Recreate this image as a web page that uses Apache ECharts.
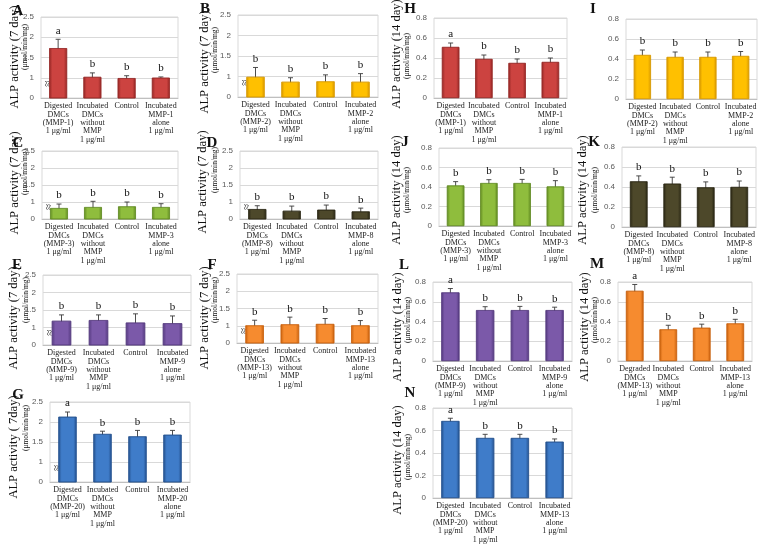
<!DOCTYPE html>
<html><head><meta charset="utf-8">
<script src="https://cdn.jsdelivr.net/npm/echarts@6/dist/echarts.min.js"></script>
<style>html,body{margin:0;padding:0;background:#fff}#c{width:760px;height:544px}</style>
</head><body><div id="c"></div>
<script>
// ---------------- DATA ----------------
const catsA = ['Digested\nDMCs\n(MMP-1)\n1 μg/ml', 'Incubated\nDMCs\nwithout\nMMP\n1 μg/ml', 'Control', 'Incubated\nMMP-1\nalone\n1 μg/ml'];
const catsB = ['Digested\nDMCs\n(MMP-2)\n1 μg/ml', 'Incubated\nDMCs\nwithout\nMMP\n1 μg/ml', 'Control', 'Incubated\nMMP-2\nalone\n1 μg/ml'];
const catsC = ['Digested\nDMCs\n(MMP-3)\n1 μg/ml', 'Incubated\nDMCs\nwithout\nMMP\n1 μg/ml', 'Control', 'Incubated\nMMP-3\nalone\n1 μg/ml'];
const catsD = ['Digested\nDMCs\n(MMP-8)\n1 μg/ml', 'Incubated\nDMCs\nwithout\nMMP\n1 μg/ml', 'Control', 'Incubated\nMMP-8\nalone\n1 μg/ml'];
const catsE = ['Digested\nDMCs\n(MMP-9)\n1 μg/ml', 'Incubated\nDMCs\nwithout\nMMP\n1 μg/ml', 'Control', 'Incubated\nMMP-9\nalone\n1 μg/ml'];
const catsF = ['Digested\nDMCs\n(MMP-13)\n1 μg/ml', 'Incubated\nDMCs\nwithout\nMMP\n1 μg/ml', 'Control', 'Incubated\nMMP-13\nalone\n1 μg/ml'];
const catsG = ['Digested\nDMCs\n(MMP-20)\n1 μg/ml', 'Incubated\nDMCs\nwithout\nMMP\n1 μg/ml', 'Control', 'Incubated\nMMP-20\nalone\n1 μg/ml'];
const catsH = catsA, catsI = catsB, catsJ = catsC, catsK = catsD, catsL = catsE;
const catsM = ['Degraded\nDMCs\n(MMP-13)\n1 μg/ml', 'Incubated\nDMCs\nwithout\nMMP\n1 μg/ml', 'Control', 'Incubated\nMMP-13\nalone\n1 μg/ml'];
const catsN = ['Digested\nDMCs\n(MMP-20)\n1 μg/ml', 'Incubated\nDMCs\nwithout\nMMP\n1 μg/ml', 'Control', 'Incubated\nMMP-13\nalone\n1 μg/ml'];

const valsA = [1.73, 1.02, 0.99, 1.00], errsA = [0.22, 0.10, 0.06, 0.02], sigA = ['a','b','b','b'];
const valsB = [0.99, 0.87, 0.88, 0.87], errsB = [0.23, 0.10, 0.16, 0.20], sigB = ['b','b','b','b'];
const valsC = [0.82, 0.85, 0.87, 0.85], errsC = [0.12, 0.17, 0.13, 0.10], sigC = ['b','b','b','b'];
const valsD = [0.79, 0.74, 0.77, 0.72], errsD = [0.10, 0.14, 0.14, 0.10], sigD = ['b','b','b','b'];
const valsE = [1.19, 1.21, 1.14, 1.12], errsE = [0.17, 0.15, 0.25, 0.21], sigE = ['b','b','b','b'];
const valsF = [1.01, 1.04, 1.05, 1.01], errsF = [0.15, 0.21, 0.16, 0.14], sigF = ['b','b','b','b'];
const valsG = [2.13, 1.70, 1.64, 1.68], errsG = [0.12, 0.07, 0.15, 0.11], sigG = ['a','b','b','b'];
const valsH = [0.51, 0.39, 0.35, 0.36], errsH = [0.04, 0.04, 0.04, 0.04], sigH = ['a','b','b','b'];
const valsI = [0.44, 0.42, 0.42, 0.43], errsI = [0.05, 0.05, 0.05, 0.045], sigI = ['b','b','b','b'];
const valsJ = [0.415, 0.44, 0.44, 0.405], errsJ = [0.04, 0.035, 0.038, 0.06], sigJ = ['b','b','b','b'];
const valsK = [0.456, 0.433, 0.396, 0.40], errsK = [0.055, 0.065, 0.055, 0.06], sigK = ['b','b','b','b'];
const valsL = [0.694, 0.515, 0.515, 0.515], errsL = [0.04, 0.035, 0.038, 0.03], sigL = ['a','b','b','b'];
const valsM = [0.71, 0.32, 0.336, 0.38], errsM = [0.065, 0.042, 0.037, 0.042], sigM = ['a','b','b','b'];
const valsN = [0.684, 0.533, 0.533, 0.50], errsN = [0.025, 0.033, 0.033, 0.025], sigN = ['a','b','b','b'];

const ticks7 = [0.5, 1, 1.5, 2, 2.5];          // axis break: lowest tick shown as "0"
const tickLabels7 = ['0', '1', '1.5', '2', '2.5'];
const ticks14 = [0, 0.2, 0.4, 0.6, 0.8];
const tickLabels14 = ['0', '0.2', '0.4', '0.6', '0.8'];

// ---------------- STYLE / LAYOUT ----------------
const RED = ['#cc4340', '#962826'], YEL = ['#ffc000', '#d99a00'], GRN = ['#8fbd3d', '#628c23'],
      OLV = ['#4d482a', '#2c2915'], PUR = ['#7b59a9', '#553a80'], ORG = ['#f68b2f', '#c9620f'], BLU = ['#3f7cc9', '#25528f'];
const T7 = 'ALP activity (7 day)', T14 = 'ALP activity (14 day)', SUB = '(μmol/min/mg)';
const panels = [
  {k:'A', cats:catsA, vals:valsA, errs:errsA, sig:sigA, d:7, c:RED, g:[41,17,178,98],  L:[18,11],  t:[15,57],  s:[25,47], tt:T7},
  {k:'B', cats:catsB, vals:valsB, errs:errsB, sig:sigB, d:7, c:YEL, g:[238,15,378,97], L:[205,9],  t:[205,62], s:[215,50], tt:T7},
  {k:'C', cats:catsC, vals:valsC, errs:errsC, sig:sigC, d:7, c:GRN, g:[42,151,178,219],L:[18,143], t:[15,183], s:[25,172], tt:T7},
  {k:'D', cats:catsD, vals:valsD, errs:errsD, sig:sigD, d:7, c:OLV, g:[240,151,378,219],L:[212,143],t:[203,182],s:[215,170], tt:T7},
  {k:'E', cats:catsE, vals:valsE, errs:errsE, sig:sigE, d:7, c:PUR, g:[43,275,191,345],L:[17,265], t:[14,318], s:[26,300], tt:T7},
  {k:'F', cats:catsF, vals:valsF, errs:errsF, sig:sigF, d:7, c:ORG, g:[237,274,378,343],L:[212,265],t:[205,318],s:[215,300], tt:T7},
  {k:'G', cats:catsG, vals:valsG, errs:errsG, sig:sigG, d:7, c:BLU, g:[50,402,190,482],L:[18,395], t:[14,447], s:[26,428], tt:'ALP activity ( 7day)'},
  {k:'H', cats:catsH, vals:valsH, errs:errsH, sig:sigH, d:14, c:RED, g:[434,18,567,98],  L:[410,9],  t:[397,54], s:[407,56], tt:T14},
  {k:'I', cats:catsI, vals:valsI, errs:errsI, sig:sigI, d:14, c:YEL, g:[626,19,757,99],  L:[593,9],  t:null,     s:null,     tt:T14},
  {k:'J', cats:catsJ, vals:valsJ, errs:errsJ, sig:sigJ, d:14, c:GRN, g:[439,148,572,226],L:[405,142],t:[397,190],s:[407,190], tt:T14},
  {k:'K', cats:catsK, vals:valsK, errs:errsK, sig:sigK, d:14, c:OLV, g:[622,147,756,227],L:[594,142],t:[583,190],s:[595,190], tt:T14},
  {k:'L', cats:catsL, vals:valsL, errs:errsL, sig:sigL, d:14, c:PUR, g:[433,282,572,361],L:[404,265],t:[398,327],s:[408,320], tt:T14},
  {k:'M', cats:catsM, vals:valsM, errs:errsM, sig:sigM, d:14, c:ORG, g:[618,282,752,361],L:[597,264],t:[585,327],s:[595,320], tt:T14},
  {k:'N', cats:catsN, vals:valsN, errs:errsN, sig:sigN, d:14, c:BLU, g:[433,408,572,500],L:[410,393],t:[398,460],s:[408,457], tt:T14}
];

const SERIF = '"Liberation Serif", "DejaVu Serif", serif';
const SANS = '"Liberation Sans", Arial, sans-serif';

const grid = [], xAxis = [], yAxis = [], series = [], graphic = [];
panels.forEach((p, i) => {
  grid.push({left: p.g[0], top: p.g[1], width: p.g[2] - p.g[0], height: p.g[3] - p.g[1],
             show: true, borderColor: '#d9d9d9', borderWidth: 1, containLabel: false});
  xAxis.push({type: 'category', gridIndex: i, data: p.cats,
    axisLine: {show: true, lineStyle: {color: '#bfbfbf'}}, axisTick: {show: false},
    axisLabel: {interval: 0, margin: 4, fontFamily: SERIF, fontSize: 8, lineHeight: 8.4, color: '#222'}});
  const is7 = p.d === 7;
  const tv = is7 ? ticks7 : ticks14, tl = is7 ? tickLabels7 : tickLabels14;
  yAxis.push({type: 'value', gridIndex: i, min: tv[0], max: tv[tv.length - 1], interval: tv[1] - tv[0],
    axisLine: {show: false}, axisTick: {show: false},
    splitLine: {lineStyle: {color: '#d9d9d9', width: 1}},
    axisLabel: {margin: 7, fontFamily: SANS, fontSize: 8, color: '#595959',
      formatter: v => { const j = tv.findIndex(t => Math.abs(t - v) < 1e-6); return j >= 0 ? tl[j] : ''; }}});
  series.push({type: 'bar', xAxisIndex: i, yAxisIndex: i, data: p.vals, barWidth: '52%', clip: true,
    itemStyle: {color: new echarts.graphic.LinearGradient(0, 0, 1, 0, [
      {offset: 0, color: p.c[1]}, {offset: 0.18, color: p.c[0]}, {offset: 0.82, color: p.c[0]}, {offset: 1, color: p.c[1]}]),
      borderColor: p.c[1], borderWidth: 0.6}, animation: false, silent: true});
  series.push({type: 'custom', xAxisIndex: i, yAxisIndex: i, animation: false, silent: true, clip: false,
    data: p.vals.map((v, j) => [j, v, p.errs[j]]),
    renderItem: (params, api) => {
      const x = api.value(0), v = api.value(1), e = api.value(2);
      const top = api.coord([x, v + e]), bot = api.coord([x, v - e]);
      const cx = top[0];
      return {type: 'group', children: [
        {type: 'line', shape: {x1: cx, y1: top[1], x2: cx, y2: bot[1]}, style: {stroke: '#3a3a3a', lineWidth: 0.9}},
        {type: 'line', shape: {x1: cx - 2.5, y1: top[1], x2: cx + 2.5, y2: top[1]}, style: {stroke: '#3a3a3a', lineWidth: 0.9}},
        {type: 'line', shape: {x1: cx - 2.5, y1: bot[1], x2: cx + 2.5, y2: bot[1]}, style: {stroke: '#3a3a3a', lineWidth: 0.9}},
        {type: 'text', x: cx, y: top[1] - 3, style: {text: p.sig[params.dataIndex], font: '11px ' + SERIF,
          fill: '#111', textAlign: 'center', textVerticalAlign: 'bottom'}}
      ]};
    }});
  graphic.push({type: 'text', x: p.L[0], y: p.L[1], style: {text: p.k, font: 'bold 15px ' + SERIF, fill: '#111',
    textAlign: 'center', textVerticalAlign: 'middle'}});
  if (p.t) {
    graphic.push({type: 'text', x: p.t[0], y: p.t[1], rotation: Math.PI / 2, style: {text: p.tt, font: '12.5px ' + SERIF,
      fill: '#111', textAlign: 'center', textVerticalAlign: 'middle'}});
    graphic.push({type: 'text', x: p.s[0], y: p.s[1], rotation: Math.PI / 2, style: {text: SUB, font: '7.5px ' + SERIF,
      fill: '#111', textAlign: 'center', textVerticalAlign: 'middle'}});
  }
});

const chart = echarts.init(document.getElementById('c'), null, {renderer: 'canvas'});
chart.setOption({animation: false, backgroundColor: '#fff', grid, xAxis, yAxis, series, graphic});

// axis-break marks on the 7-day panels, placed through the value axis
const breaks = [];
panels.forEach((p, i) => {
  if (p.d !== 7) return;
  const y = chart.convertToPixel({yAxisIndex: i}, 0.85);
  breaks.push({type: 'text', x: p.g[0] + 7, y: y, rotation: Math.PI / 2,
    style: {text: '≈', font: '11px ' + SERIF, fill: '#222', textAlign: 'center', textVerticalAlign: 'middle'}});
});
chart.setOption({graphic: graphic.concat(breaks)});
</script>
</body></html>
